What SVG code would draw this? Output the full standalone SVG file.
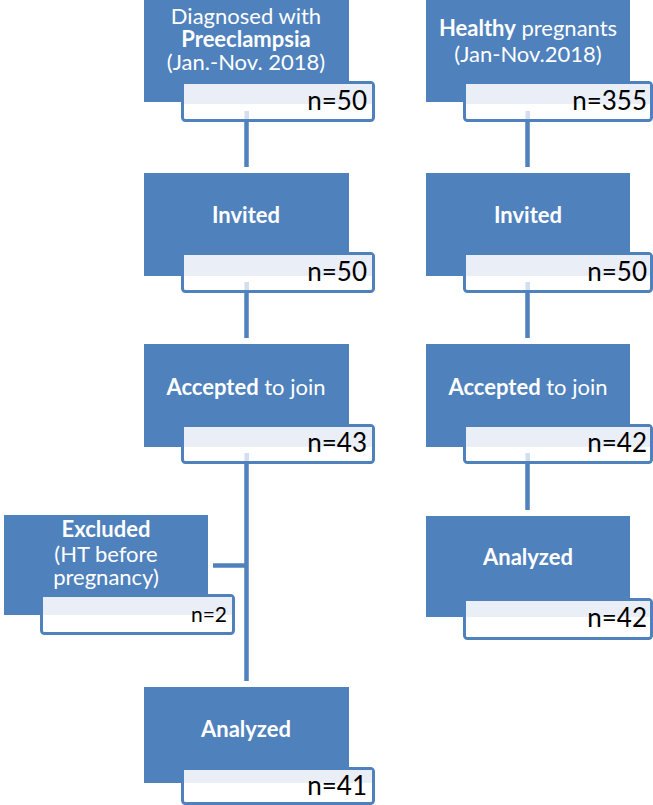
<svg xmlns="http://www.w3.org/2000/svg" width="653" height="805" viewBox="0 0 653 805">
<style>
.blue{fill:#4f81bd;}
.nbox{fill:#ffffff;stroke:#4f81bd;stroke-width:3;}
.light{fill:#e9eef7;}
.ghost{fill:#d3deee;}
.conn{stroke:#4f81bd;stroke-width:4.5;fill:none;}
.t{font-family:Lato,"Open Sans","Liberation Sans",sans-serif;fill:#ffffff;font-size:22px;text-anchor:middle;}
.b{font-weight:bold;}
.n{font-family:Lato,"Open Sans","Liberation Sans",sans-serif;fill:#000000;font-size:26px;text-anchor:end;}
</style>
<rect width="653" height="805" fill="#ffffff"/>
<g id="connectors">
<line class="conn" x1="246.5" y1="118" x2="246.5" y2="167"/>
<line class="conn" x1="246.5" y1="290" x2="246.5" y2="338"/>
<line class="conn" x1="246.5" y1="461" x2="246.5" y2="681"/>
<line class="conn" x1="527.5" y1="118" x2="527.5" y2="167"/>
<line class="conn" x1="527.5" y1="290" x2="527.5" y2="338"/>
<line class="conn" x1="527.5" y1="461" x2="527.5" y2="510"/>
<line class="conn" x1="213" y1="565.5" x2="246.5" y2="565.5"/>
</g>
<g id="left1">
<rect class="blue" x="144" y="0" width="205" height="102"/>
<text class="t" x="246" y="24">Diagnosed with</text>
<text class="t b" x="246" y="47">Preeclampsia</text>
<text class="t" x="246" y="69.5">(Jan.-Nov. 2018)</text>
<rect class="nbox" x="182.5" y="82.5" width="191" height="38" rx="3"/>
<rect class="light" x="184" y="84" width="188" height="20"/>
<rect class="ghost" x="244.5" y="111" width="4.5" height="8"/>
<text class="n" x="367" y="110">n=50</text>
</g>
<g id="left2">
<rect class="blue" x="144" y="173" width="205" height="103"/>
<text class="t b" x="246" y="223">Invited</text>
<rect class="nbox" x="182.5" y="253.5" width="191" height="38" rx="3"/>
<rect class="light" x="184" y="255" width="188" height="21"/>
<rect class="ghost" x="244.5" y="282" width="4.5" height="8"/>
<text class="n" x="367" y="281">n=50</text>
</g>
<g id="left3">
<rect class="blue" x="144" y="344" width="205" height="103"/>
<text class="t" x="246" y="395"><tspan class="b">Accepted</tspan> to join</text>
<rect class="nbox" x="182.5" y="425.5" width="191" height="37" rx="3"/>
<rect class="light" x="184" y="427" width="188" height="20"/>
<rect class="ghost" x="244.5" y="453" width="4.5" height="8"/>
<text class="n" x="367" y="452">n=43</text>
</g>
<g id="excluded">
<rect class="blue" x="4" y="515" width="204" height="100"/>
<text class="t b" x="106" y="537">Excluded</text>
<text class="t" x="106" y="562">(HT before</text>
<text class="t" x="106" y="585">pregnancy)</text>
<rect class="nbox" x="41.5" y="595.5" width="192" height="38" rx="3"/>
<rect class="light" x="43" y="597" width="189" height="18"/>
<text class="n" x="227" y="622" style="font-size:21px">n=2</text>
</g>
<g id="left4">
<rect class="blue" x="144" y="687" width="205" height="96"/>
<text class="t b" x="246" y="737">Analyzed</text>
<rect class="nbox" x="182.5" y="768.5" width="191" height="35" rx="3"/>
<rect class="light" x="184" y="770" width="188" height="13"/>
<text class="n" x="367" y="795">n=41</text>
</g>
<g id="right1">
<rect class="blue" x="426" y="0" width="204" height="102"/>
<text class="t" x="528" y="36"><tspan class="b">Healthy</tspan> pregnants</text>
<text class="t" x="528" y="61.5">(Jan-Nov.2018)</text>
<rect class="nbox" x="464.5" y="82.5" width="187" height="38" rx="3"/>
<rect class="light" x="466" y="84" width="184" height="20"/>
<rect class="ghost" x="525.5" y="111" width="4.5" height="8"/>
<text class="n" x="647" y="110">n=355</text>
</g>
<g id="right2">
<rect class="blue" x="426" y="173" width="204" height="103"/>
<text class="t b" x="528" y="223">Invited</text>
<rect class="nbox" x="464.5" y="253.5" width="187" height="38" rx="3"/>
<rect class="light" x="466" y="255" width="184" height="21"/>
<rect class="ghost" x="525.5" y="282" width="4.5" height="8"/>
<text class="n" x="647" y="281">n=50</text>
</g>
<g id="right3">
<rect class="blue" x="426" y="344" width="204" height="103"/>
<text class="t" x="528" y="395"><tspan class="b">Accepted</tspan> to join</text>
<rect class="nbox" x="464.5" y="425.5" width="187" height="37" rx="3"/>
<rect class="light" x="466" y="427" width="184" height="20"/>
<rect class="ghost" x="525.5" y="453" width="4.5" height="8"/>
<text class="n" x="647" y="452">n=42</text>
</g>
<g id="right4">
<rect class="blue" x="426" y="516" width="204" height="101"/>
<text class="t b" x="528" y="565">Analyzed</text>
<rect class="nbox" x="464.5" y="599.5" width="187" height="39" rx="3"/>
<rect class="light" x="466" y="601" width="184" height="16"/>
<text class="n" x="647" y="627">n=42</text>
</g>
</svg>
